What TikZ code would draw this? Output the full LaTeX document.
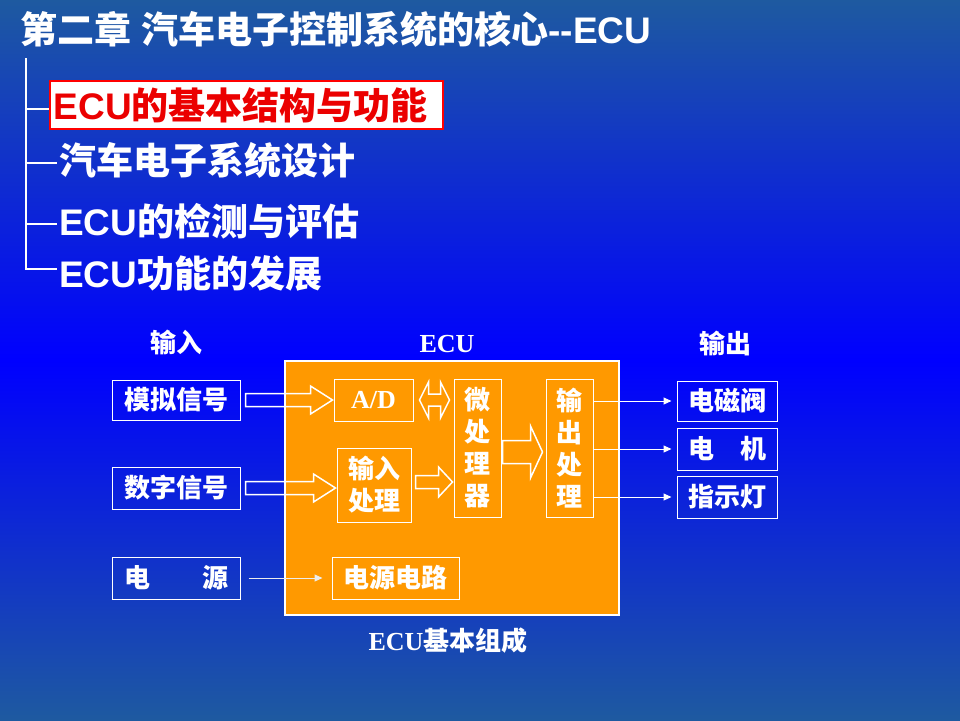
\documentclass[tikz,border=0pt]{standalone}
\usepackage{fontspec}
\setmainfont{Noto Sans CJK SC}
\newfontfamily\lsans{Liberation Sans}
\newfontfamily\lserif{Liberation Serif}
\usetikzlibrary{arrows.meta,calc}
\definecolor{bgtop}{RGB}{30,90,160}
\definecolor{bgmid}{RGB}{0,0,255}
\definecolor{ecuorange}{RGB}{255,153,0}
\definecolor{itemred}{RGB}{235,0,0}
\tikzset{
  big/.style={font=\fontsize{37}{40}\selectfont\bfseries, text=white, inner sep=0pt},
  lbl/.style={font=\fontsize{26}{32}\selectfont\bfseries, text=white, inner sep=0pt, align=center},
  serlbl/.style={font=\lserif\bfseries\fontsize{26}{30}\selectfont, text=white, inner sep=0pt},
  wbox/.style={draw=white, line width=1pt, inner sep=0pt, text=white, font=\fontsize{26}{32}\selectfont\bfseries, align=center},
  blk/.style={draw=white, line width=1.5pt, line join=miter},
  thinarr/.style={draw=white, line width=1pt, -{Triangle[length=8pt,width=7pt]}},
  tree/.style={draw=white, line width=1.2pt},
}
\newcommand{\blockarr}[5]{%
  \draw[blk] let \p1=(#1), \p2=(#2) in
    (\x1,\y1+#3) -- (\x2-#5,\y1+#3) -- (\x2-#5,\y1+#4) -- (\x2,\y1)
    -- (\x2-#5,\y1-#4) -- (\x2-#5,\y1-#3) -- (\x1,\y1-#3) -- cycle;}
\newcommand{\dblarr}[5]{%
  \draw[blk] let \p1=(#1), \p2=(#2) in
    (\x1,\y1) -- (\x1+#5,\y1+#4) -- (\x1+#5,\y1+#3) -- (\x2-#5,\y1+#3) -- (\x2-#5,\y1+#4)
    -- (\x2,\y1) -- (\x2-#5,\y1-#4) -- (\x2-#5,\y1-#3) -- (\x1+#5,\y1-#3) -- (\x1+#5,\y1-#4) -- cycle;}
\begin{document}
\begin{tikzpicture}[x=1pt,y=-1pt]
\useasboundingbox (0,0) rectangle (960,720);
\shade[top color=bgtop, bottom color=bgtop, middle color=bgmid] (0,0) rectangle (960,720);

% title and outline
\node[big, anchor=west] (title) at (20,29) {第二章{\lsans\ }汽车电子控制系统的核心{\lsans\bfseries -{}-ECU}};
\node[anchor=west, draw=red, fill=white, line width=1.5pt, text width=385pt, align=left,
      inner xsep=4pt, inner ysep=0pt, minimum height=48pt,
      font=\fontsize{37}{40}\selectfont\bfseries, text=itemred] (item1) at (49,105) {{\lsans\bfseries ECU}的基本结构与功能};
\node[big, anchor=west, inner xsep=2pt] (item2) at (57,160) {汽车电子系统设计};
\node[big, anchor=west, inner xsep=2pt] (item3) at (57,221) {{\lsans\bfseries ECU}的检测与评估};
\node[big, anchor=west, inner xsep=2pt] (item4) at (57,273) {{\lsans\bfseries ECU}功能的发展};
\coordinate (treetop) at (26,58);
\draw[tree] (treetop) |- ([yshift=4pt]item4.west);
\draw[tree] ([yshift=-4pt]treetop |- item1.west) -- ([yshift=-4pt]item1.west);
\draw[tree] ([yshift=-3pt]treetop |- item2.west) -- ([yshift=-3pt]item2.west);
\draw[tree] ([yshift=-3pt]treetop |- item3.west) -- ([yshift=-3pt]item3.west);

% diagram
\node[wbox, fill=ecuorange, line width=2.5pt, minimum width=334pt, minimum height=254pt] (ecu) at (452,488) {};
\node[lbl] (lin) at (176,342) {输入};
\node[serlbl] (lecu) at (447,344) {ECU};
\node[lbl] (lout) at (725,343) {输出};

\node[wbox, minimum width=128pt, minimum height=40pt] (in1) at (176,400) {模拟信号};
\node[wbox, minimum width=128pt, minimum height=42pt] (in2) at (176,488) {数字信号};
\node[wbox, minimum width=128pt, minimum height=42pt] (in3) at (176,578) {电　　源};

\node[wbox, minimum width=79pt, minimum height=42pt, font=\lserif\bfseries\fontsize{26}{30}\selectfont] (ad) at (373.5,400) {A/D};
\node[wbox, minimum width=74pt, minimum height=74pt] (inproc) at (374,485) {输入\\处理};
\node[wbox, minimum width=47pt, minimum height=138pt] (mcu) at (477.5,448) {微\\处\\理\\器};
\node[wbox, minimum width=47pt, minimum height=138pt] (outproc) at (569.5,448) {输\\出\\处\\理};
\node[wbox, minimum width=127pt, minimum height=42pt] (pwr) at (395.5,578) {电源电路};

\node[wbox, minimum width=100pt, minimum height=40pt] (out1) at (727,401) {电磁阀};
\node[wbox, minimum width=100pt, minimum height=42pt] (out2) at (727,449) {电　机};
\node[wbox, minimum width=100pt, minimum height=42pt] (out3) at (727,497) {指示灯};

\node[lbl] (cap) at (448,641) {{\lserif\bfseries ECU}基本组成};

% block arrows
\blockarr{[xshift=5pt]in1.east}{[xshift=-1pt]ad.west}{6.5pt}{14pt}{22pt}
\blockarr{[xshift=5pt]in2.east}{[xshift=-1pt]inproc.west}{6.5pt}{14pt}{22pt}
\blockarr{[xshift=4pt,yshift=3pt]inproc.east}{[xshift=-1pt]mcu.west}{6.5pt}{15pt}{14pt}
\blockarr{[xshift=1pt,yshift=-4pt]mcu.east}{[xshift=-3pt]outproc.west}{11.5pt}{26pt}{12pt}
\dblarr{[xshift=6pt]ad.east}{[xshift=-4pt]mcu.west |- ad.east}{6pt}{18pt}{9pt}

% thin arrows
\draw[thinarr, draw=white!85!gray] ([xshift=8pt]in3.east) -- ([xshift=-9pt]pwr.west);
\draw[thinarr] (outproc.east |- out1.west) -- ([xshift=-5pt]out1.west);
\draw[thinarr] (outproc.east |- out2.west) -- ([xshift=-5pt]out2.west);
\draw[thinarr] (outproc.east |- out3.west) -- ([xshift=-5pt]out3.west);
\end{tikzpicture}
\end{document}
